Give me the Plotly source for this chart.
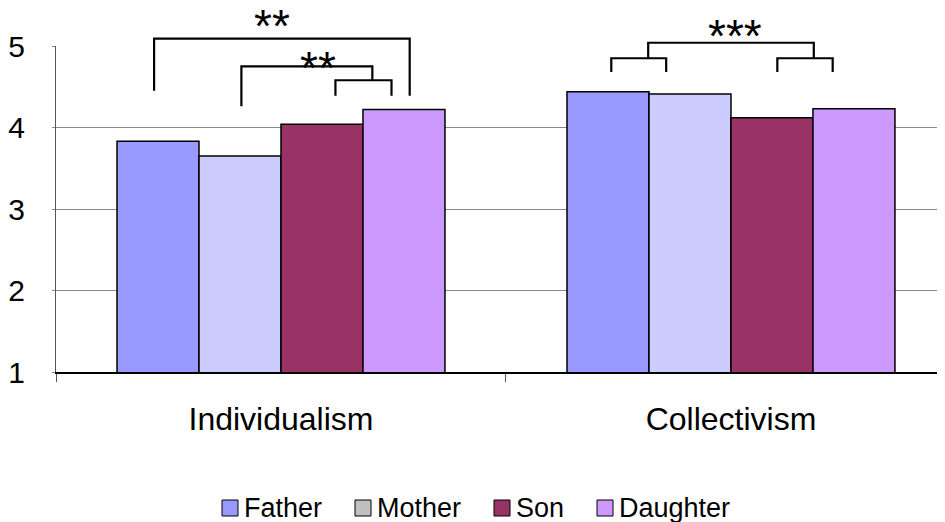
import plotly.graph_objects as go

# ---------------- data ----------------
categories = ["Individualism", "Collectivism"]
series_names = ["Father", "Mother", "Son", "Daughter"]
father = [3.83, 4.44]
mother = [3.65, 4.41]
son = [4.04, 4.12]
daughter = [4.22, 4.23]
y_ticks = [1, 2, 3, 4, 5]
significance_labels = ["**", "**", "***"]

series_values = [father, mother, son, daughter]
bar_colors = ["#9999FF", "#CCCCFF", "#993366", "#CC99FF"]
legend_colors = ["#9999FF", "#C0C0C0", "#993366", "#CC99FF"]

FONT = "Liberation Sans, Arial, sans-serif"

# ---------------- geometry ----------------
PAGE_OFF = 8            # browser body margin
W, H = 945 - PAGE_OFF, 522 - PAGE_OFF
ML = 56 - PAGE_OFF
MT = 46 - PAGE_OFF
MR = 0
MB = H - (372 - PAGE_OFF)
X_RANGE = [-0.5, 1.4756]
Y_RANGE = [1, 5]
BAR_W = 0.1822
GROUP_OFF = -2 * BAR_W

plot_w = W - ML - MR
plot_h = H - MT - MB


def dx(x):  # data x -> paper
    return (x - X_RANGE[0]) / (X_RANGE[1] - X_RANGE[0])


def dy(v):  # data y -> paper
    return (v - Y_RANGE[0]) / (Y_RANGE[1] - Y_RANGE[0])


def px_x(p):  # page pixel -> paper
    return (p - PAGE_OFF - ML) / plot_w


def px_y(p):
    return (H - MB - (p - PAGE_OFF)) / plot_h


fig = go.Figure()
for i, (name, vals) in enumerate(zip(series_names, series_values)):
    fig.add_trace(go.Bar(
        x=categories, y=vals, name=name,
        width=BAR_W, offset=GROUP_OFF + i * BAR_W,
        marker=dict(color=bar_colors[i], line=dict(color="black", width=1.5)),
        showlegend=False,
    ))

# ---------------- significance brackets (data units) ----------------
brackets = [
    [(-0.282, 4.45), (-0.282, 5.09), (0.286, 5.09), (0.286, 4.39)],
    [(-0.088, 4.26), (-0.088, 4.75), (0.203, 4.75), (0.203, 4.58)],
    [(0.121, 4.39), (0.121, 4.58), (0.2456, 4.58), (0.2456, 4.39)],
    [(0.734, 4.68), (0.734, 4.85), (0.856, 4.85), (0.856, 4.68)],
    [(0.816, 4.85), (0.816, 5.04), (1.184, 5.04), (1.184, 4.85)],
    [(1.103, 4.68), (1.103, 4.85), (1.226, 4.85), (1.226, 4.68)],
]
shapes = []
for br in brackets:
    path = "M " + " L ".join(f"{dx(x):.5f},{dy(y):.5f}" for x, y in br)
    shapes.append(dict(type="path", xref="paper", yref="paper", path=path,
                       line=dict(color="black", width=2.2)))

star_pos = [(-0.019, 5.33), (0.083, 4.81), (1.009, 5.21)]
annotations = []
for (x, y), t in zip(star_pos, significance_labels):
    annotations.append(dict(x=dx(x), y=dy(y), xref="paper", yref="paper", text=t,
                            showarrow=False, xanchor="center", yanchor="middle",
                            yshift=-7, font=dict(family=FONT, size=46, color="black")))

# ---------------- manual legend (page pixels) ----------------
swatch_left = [222, 355, 494, 597]
LEG_Y = 508
SW = 16
for i, name in enumerate(series_names):
    x0 = swatch_left[i]
    shapes.append(dict(type="rect", xref="paper", yref="paper",
                       x0=px_x(x0), x1=px_x(x0 + SW),
                       y0=px_y(LEG_Y + SW / 2), y1=px_y(LEG_Y - SW / 2),
                       fillcolor=legend_colors[i], line=dict(color="black", width=1)))
    annotations.append(dict(x=px_x(x0 + SW + 4), y=px_y(LEG_Y), xref="paper", yref="paper",
                            text=name, showarrow=False, xanchor="left", yanchor="middle",
                            font=dict(family=FONT, size=27, color="black")))

fig.update_layout(
    width=W, height=H,
    margin=dict(l=ML, r=MR, t=MT, b=MB, pad=0),
    paper_bgcolor="white", plot_bgcolor="white",
    barmode="overlay",
    showlegend=False,
    font=dict(family=FONT, color="black"),
    shapes=shapes, annotations=annotations,
    xaxis=dict(type="category", range=X_RANGE, showgrid=False,
               showline=True, linecolor="black", linewidth=1.5,
               ticks="outside", tickson="boundaries", ticklen=8, tickcolor="#555555",
               tickfont=dict(family=FONT, size=32, color="black"),
               ticklabelstandoff=18, zeroline=False),
    yaxis=dict(range=Y_RANGE, tickvals=y_ticks, showgrid=True, gridcolor="#8a8a8a",
               gridwidth=1, showline=True, linecolor="#555555", linewidth=1,
               ticks="outside", ticklen=3, tickcolor="#8a8a8a",
               tickfont=dict(family=FONT, size=30, color="black"),
               ticklabelstandoff=21, zeroline=False),
)

fig.write_html("out.html")
